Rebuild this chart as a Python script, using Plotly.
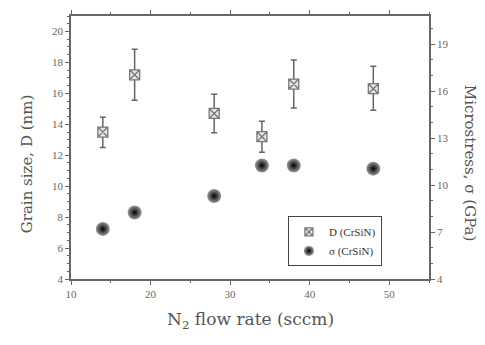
import plotly.graph_objects as go

flow = [14, 18, 28, 34, 38, 48]
grain = [13.5, 17.2, 14.7, 13.2, 16.6, 16.3]
grain_err_plus = [0.95, 1.65, 1.25, 1.0, 1.55, 1.45]
grain_err_minus = [1.0, 1.65, 1.25, 1.0, 1.55, 1.4]
stress = [7.2, 8.25, 9.3, 11.25, 11.25, 11.05]

FONT = "Liberation Serif"
TFONT = "DejaVu Serif"
dmark = dict(symbol="square-x", size=10, color="#e6e6e6",
             line=dict(color="#777777", width=1.3))
smark = dict(symbol="circle", size=14, color="#9a9a9a",
             gradient=dict(type="radial", color="#000000"), line=dict(width=0))

fig = go.Figure()
fig.add_trace(go.Scatter(
    x=flow, y=grain, mode="markers", name="D (CrSiN)", showlegend=False,
    marker=dmark,
    error_y=dict(type="data", symmetric=False, array=grain_err_plus,
                 arrayminus=grain_err_minus, color="#666666", thickness=1.5, width=3),
))
fig.add_trace(go.Scatter(
    x=flow, y=stress, mode="markers", name="σ (CrSiN)", yaxis="y2", showlegend=False,
    marker=smark,
))
# legend entries with smaller symbols
fig.add_trace(go.Scatter(x=[None], y=[None], mode="markers", name="D (CrSiN)",
                         marker=dict(dmark, size=8)))
fig.add_trace(go.Scatter(x=[None], y=[None], mode="markers", name="σ (CrSiN)",
                         marker=dict(smark, size=10)))

axcol = "#666666"
tcol = "#555555"
fig.update_layout(
    width=485, height=345,
    margin=dict(l=71, r=56, t=10, b=66),
    paper_bgcolor="white", plot_bgcolor="white",
    font=dict(family=FONT, color="#555555", size=11),
    showlegend=True,
    legend=dict(x=0.606, y=0.238, xanchor="left", yanchor="top",
                bordercolor="#444444", borderwidth=1, bgcolor="white",
                font=dict(size=11, family=FONT, color="#333333"),
                itemwidth=30, tracegroupgap=0),
    xaxis=dict(range=[10, 55], dtick=10, tick0=10, showgrid=False, zeroline=False,
               showline=True, linecolor=axcol, linewidth=1.5, mirror="ticks",
               ticks="outside", ticklen=4, tickcolor=axcol,
               minor=dict(dtick=5, ticks="outside", ticklen=2, tickcolor=axcol),
               tickfont=dict(size=11, family=FONT, color="#666666")),
    yaxis=dict(range=[4, 21], dtick=2, tick0=4, showgrid=False, zeroline=False,
               showline=True, linecolor=axcol, linewidth=1.5,
               ticks="outside", ticklen=4, tickcolor=axcol,
               minor=dict(dtick=0.5, ticks="outside", ticklen=2, tickcolor=axcol),
               tickfont=dict(size=11, family=FONT, color="#666666")),
    yaxis2=dict(range=[4, 20.8], dtick=3, tick0=4, overlaying="y", side="right",
                showgrid=False, zeroline=False,
                showline=True, linecolor=axcol, linewidth=1.5,
                ticks="outside", ticklen=4, tickcolor=axcol,
                minor=dict(dtick=1, ticks="outside", ticklen=2, tickcolor=axcol),
                tickfont=dict(size=11, family=FONT, color="#666666")),
    annotations=[
        dict(text="N<sub>2</sub> flow rate (sccm)", xref="paper", yref="paper",
             x=0.5, y=-0.158, xanchor="center", yanchor="middle", showarrow=False,
             font=dict(size=17, family=TFONT, color=tcol)),
        dict(text="Grain size, D (nm)", xref="paper", yref="paper",
             x=-0.123, y=0.44, xanchor="center", yanchor="middle", showarrow=False,
             textangle=-90, font=dict(size=15, family=TFONT, color=tcol)),
        dict(text="Microstress, σ (GPa)", xref="paper", yref="paper",
             x=1.113, y=0.44, xanchor="center", yanchor="middle", showarrow=False,
             textangle=90, font=dict(size=15, family=TFONT, color=tcol)),
    ],
)
fig.write_html("out.html")
